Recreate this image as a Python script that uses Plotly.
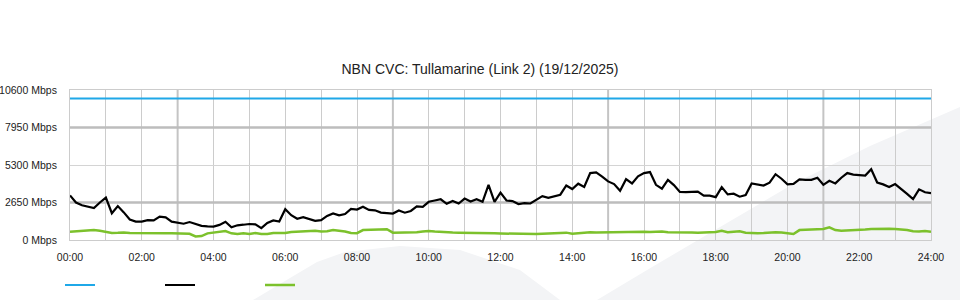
import plotly.graph_objects as go

# ---- data (10-minute samples, 00:00 .. 24:00) ----
hours = [i / 6 for i in range(145)]

traffic_mbps = [
    3150, 2650, 2450, 2350, 2250, 2650, 3000, 1890, 2400, 1950,
    1450, 1300, 1300, 1400, 1380, 1650, 1600, 1300, 1250, 1150,
    1270, 1120, 1000, 960, 950, 1070, 1290, 900, 1040, 1080,
    1130, 1100, 840, 1200, 1380, 1300, 2175, 1750, 1500, 1610,
    1500, 1350, 1400, 1700, 1880, 1740, 1830, 2200, 2150, 2350,
    2125, 2100, 1940, 1890, 1870, 2090, 1930, 2050, 2380, 2350,
    2700, 2790, 2880, 2560, 2760, 2580, 2930, 2720, 2880, 2700,
    3900, 2700, 3350, 2790, 2750, 2540, 2600, 2580, 2850, 3100,
    2980, 3100, 3200, 3850, 3600, 3980, 3750, 4730, 4780, 4480,
    4140, 3950, 3480, 4300, 4000, 4500, 4730, 4800, 3900, 3630,
    4250, 3880, 3400, 3380, 3380, 3420, 3140, 3140, 3030, 3735,
    3220, 3270, 3060, 3180, 4000, 3950, 3850, 4050, 4650, 4330,
    3930, 3960, 4290, 4250, 4250, 4400, 3900, 4180, 4000, 4400,
    4730, 4620, 4600, 4550, 5000, 4060, 3930, 3740, 3950, 3620,
    3260, 2890, 3580, 3370, 3310,
]

other_mbps = [
    590, 620, 640, 660, 700, 650, 560, 500, 510, 530,
    490, 480, 480, 480, 480, 470, 480, 480, 470, 480,
    440, 250, 280, 470, 540, 580, 630, 470, 430, 480,
    430, 500, 430, 420, 500, 490, 500, 570, 600, 600,
    640, 650, 600, 620, 710, 680, 600, 500, 480, 700,
    720, 770, 780, 760, 520, 520, 520, 540, 550, 600,
    640, 600, 560, 530, 530, 520, 520, 510, 500, 480,
    480, 470, 460, 450, 450, 450, 430, 400, 420, 450,
    470, 480, 480, 520, 450, 490, 520, 540, 530, 540,
    560, 570, 580, 600, 610, 600, 590, 570, 590, 600,
    540, 550, 540, 530, 530, 510, 530, 530, 560, 650,
    550, 580, 610, 520, 490, 470, 490, 530, 550, 530,
    500, 420, 700, 720, 760, 780, 780, 900, 700, 650,
    660, 700, 730, 740, 780, 790, 830, 790, 780, 750,
    700, 620, 600, 640, 590,
]

capacity_hours = [0, 24]
capacity_mbps = [10000, 10000]

y_ticks = [0, 2650, 5300, 7950, 10600]
y_labels = [f"{v} Mbps" for v in y_ticks]
x_ticks = list(range(0, 25, 2))
x_labels = [f"{h:02d}:00" for h in x_ticks]
strong_hours = [3, 9, 15, 21]
strong_levels = [2650, 7950]

title = "NBN CVC: Tullamarine (Link 2) (19/12/2025)"

# ---- figure ----
fig = go.Figure()
fig.add_trace(go.Scatter(x=capacity_hours, y=capacity_mbps, mode="lines", name=" ",
                         line=dict(color="#1fa8e8", width=2.2)))
fig.add_trace(go.Scatter(x=hours, y=traffic_mbps, mode="lines", name=" ",
                         line=dict(color="#000000", width=2.2)))
fig.add_trace(go.Scatter(x=hours, y=other_mbps, mode="lines", name=" ",
                         line=dict(color="#7cc12c", width=2.5)))

PLOT_W = 861
shapes = []
# decorative background swoosh
def P(px, py):
    return (px - 70) / PLOT_W, (240 - py) / 150

ptsA = [P(597, 300), P(647, 270), P(715, 230), P(795, 183), P(870, 146), P(960, 107), P(960, 300)]
pathA = "M " + " L ".join(f"{x:.4f},{y:.4f}" for x, y in ptsA) + " Z"
shapes.append(dict(type="path", path=pathA, xref="paper", yref="paper", layer="below",
                   fillcolor="#f3f4f6", line=dict(width=0)))
ptsB = [P(253, 300), P(290, 278), P(317, 262), P(345, 252), P(400, 246), P(460, 250), P(520, 270), P(560, 300)]
pathB = "M " + " L ".join(f"{x:.4f},{y:.4f}" for x, y in ptsB) + " Z"
shapes.append(dict(type="path", path=pathB, xref="paper", yref="paper", layer="below",
                   fillcolor="#f3f4f6", line=dict(width=0)))

for h in strong_hours:
    shapes.append(dict(type="line", xref="x", yref="y", x0=h, x1=h, y0=0, y1=10600,
                       layer="between", line=dict(color="#c4c4c4", width=2)))
for v in strong_levels:
    shapes.append(dict(type="line", xref="x", yref="y", x0=0, x1=24, y0=v, y1=v,
                       layer="between", line=dict(color="#bdbdbd", width=2.5)))

font_family = "Liberation Sans, Arial, sans-serif"

fig.update_layout(
    width=960, height=300,
    margin=dict(l=70, r=29, t=90, b=60, autoexpand=False),
    paper_bgcolor="#ffffff",
    plot_bgcolor="rgba(0,0,0,0)",
    title=dict(text=title, x=0.5, xanchor="center", y=0.77, yanchor="middle",
               font=dict(family=font_family, size=14, color="#222222")),
    font=dict(family=font_family, size=10.5, color="#222222"),
    showlegend=True,
    legend=dict(orientation="h", x=-10 / PLOT_W, xanchor="left", y=-0.3, yanchor="middle",
                entrywidth=55, entrywidthmode="pixels", itemwidth=30,
                bgcolor="rgba(0,0,0,0)", font=dict(size=11)),
    shapes=shapes,
    xaxis=dict(range=[0, 24], tickvals=x_ticks, ticktext=x_labels, showgrid=True,
               gridcolor="#cccccc", gridwidth=1, zeroline=False, automargin=False,
               minor=dict(dtick=1, showgrid=True, gridcolor="#cccccc", gridwidth=1),
               showline=True, linecolor="#cccccc", linewidth=1, mirror=True,
               ticks="", ticklen=0, ticklabelstandoff=7,
               tickfont=dict(size=10.5, color="#222222")),
    yaxis=dict(range=[0, 10600], tickvals=y_ticks, ticktext=y_labels, showgrid=True,
               gridcolor="#d4d4d4", gridwidth=1, zeroline=False, automargin=False,
               showline=True, linecolor="#cccccc", linewidth=1, mirror=True,
               ticks="", ticklen=0, ticklabelstandoff=10,
               tickfont=dict(size=10.5, color="#222222")),
)

fig.write_html("out.html")
